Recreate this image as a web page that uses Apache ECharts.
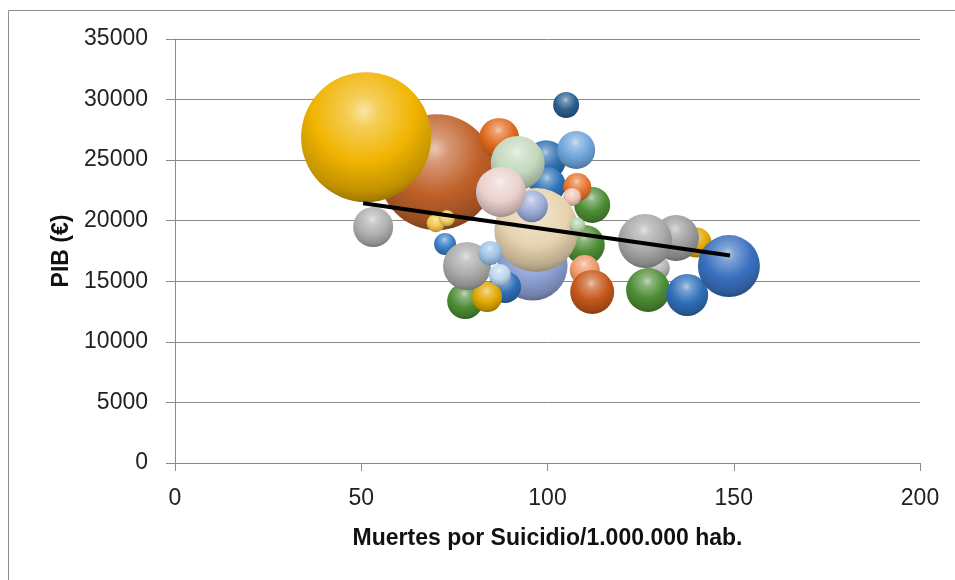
<!DOCTYPE html>
<html>
<head>
<meta charset="utf-8">
<title>PIB vs suicidio</title>
<script src="https://cdn.jsdelivr.net/npm/echarts@6/dist/echarts.min.js"></script>
<style>
  html, body { margin: 0; padding: 0; background: #fff; }
  #chart { width: 955px; height: 580px; }
</style>
</head>
<body>
<div id="chart"></div>
<script>
// datos (x = muertes por suicidio / 1.000.000 hab., y = PIB, size = poblacion en miles)
const suicidios = [70.3, 51.3, 99.6, 100, 87, 92, 107.7, 105, 112, 108, 106.6, 96, 110, 97, 108, 95.8, 87.5, 110, 112, 53.2, 70, 73, 72.5, 88.6, 77.9, 83.8, 78.4, 84.6, 87.2, 140, 134.5, 129.6, 126.2, 127, 137.5, 148.7];
const pib = [24000, 26900, 25000, 22950, 26830, 24765, 25840, 29550, 21300, 22780, 21960, 16300, 18000, 19230, 19600, 21200, 22370, 15930, 14120, 19480, 19800, 20200, 18080, 14530, 13370, 13700, 16260, 17330, 15520, 18200, 18570, 16100, 18330, 14280, 13870, 16260];
const poblacion = [5100, 6400, 606, 491, 606, 1104, 547, 256, 491, 297, 123, 1856, 606, 2672, 97, 388, 947, 341, 733, 606, 123, 97, 183, 388, 491, 341, 873, 218, 183, 341, 801, 218, 1104, 733, 668, 1456];

// linea de tendencia (extremos)
const tendX = [50.5, 149];
const tendY = [21450, 17130];

const xTicks = { min: 0, max: 200, step: 50 };
const yTicks = { min: 0, max: 35000, step: 5000 };

// colores de cada burbuja (estilo)
const colores = ['#c0612a', '#f0b400', '#2e6fb0', '#2e72b8', '#e0691e', '#c3d8bd', '#6fa6dc', '#2b5f8f', '#4e8d35', '#e8752e', '#efc6b6', '#8ea2d6', '#4e8d35', '#e7d3ae', '#b5d2a6', '#9cadd9', '#ead1cd', '#ef9a6c', '#c4581a', '#b0b0b0', '#f2c84a', '#f0d264', '#3a7ec6', '#2e6fb8', '#4e8d35', '#e0a800', '#ababab', '#9dc3e6', '#bdd6ee', '#e0a800', '#9c9c9c', '#b5b5b5', '#a8a8a8', '#4e8d35', '#2e6fb8', '#3a70c0'];

function mix(hex, target, t) {
  const n = parseInt(hex.slice(1), 16);
  const r = (n >> 16) & 255, g = (n >> 8) & 255, b = n & 255;
  const f = c => Math.round(c + (target - c) * t);
  return 'rgb(' + f(r) + ',' + f(g) + ',' + f(b) + ')';
}

function esfera(hex) {
  return {
    type: 'radial', x: 0.48, y: 0.3, r: 0.78,
    colorStops: [
      { offset: 0, color: mix(hex, 255, 0.65) },
      { offset: 0.15, color: mix(hex, 255, 0.35) },
      { offset: 0.5, color: hex },
      { offset: 0.8, color: mix(hex, 0, 0.2) },
      { offset: 1, color: mix(hex, 0, 0.5) }
    ]
  };
}

const burbujas = suicidios.map((x, i) => ({
  value: [x, pib[i], poblacion[i]],
  itemStyle: { color: esfera(colores[i]) }
}));

const chart = echarts.init(document.getElementById('chart'));
const font = "'Liberation Sans', sans-serif";
const gris = '#8a8a8a';

chart.setOption({
  animation: false,
  graphic: [{
    type: 'rect',
    shape: { x: 8.5, y: 10.5, width: 960, height: 600 },
    style: { fill: 'none', stroke: '#8c8c8c', lineWidth: 1 },
    silent: true
  }],
  grid: { left: 175, right: 35, top: 39, bottom: 117 },
  xAxis: {
    type: 'value',
    min: xTicks.min, max: xTicks.max, interval: xTicks.step,
    name: 'Muertes por Suicidio/1.000.000 hab.',
    nameLocation: 'middle',
    nameGap: 64,
    nameTextStyle: { fontFamily: font, fontWeight: 'bold', fontSize: 23, color: '#111' },
    axisLine: { show: true, lineStyle: { color: gris, width: 1 } },
    axisTick: { show: true, length: 8, lineStyle: { color: gris } },
    axisLabel: { fontFamily: font, fontSize: 23, color: '#222', margin: 24 },
    splitLine: { show: false }
  },
  yAxis: {
    type: 'value',
    min: yTicks.min, max: yTicks.max, interval: yTicks.step,
    name: 'PIB (€)',
    nameLocation: 'middle',
    nameGap: 96,
    nameTextStyle: { fontFamily: font, fontWeight: 'bold', fontSize: 23, color: '#111' },
    axisLine: { show: true, lineStyle: { color: gris, width: 1 } },
    axisTick: { show: true, length: 9, lineStyle: { color: gris } },
    axisLabel: { fontFamily: font, fontSize: 23, color: '#222', margin: 27, formatter: v => String(v) },
    splitLine: { show: true, lineStyle: { color: gris, width: 1 } }
  },
  series: [
    {
      type: 'scatter',
      data: burbujas,
      symbolSize: v => 1.625 * Math.sqrt(v[2]),
      itemStyle: { opacity: 1 },
      z: 2
    },
    {
      type: 'line',
      data: tendX.map((x, i) => [x, tendY[i]]),
      symbol: 'none',
      lineStyle: { color: '#000', width: 4 },
      z: 3
    }
  ]
});
</script>
</body>
</html>
